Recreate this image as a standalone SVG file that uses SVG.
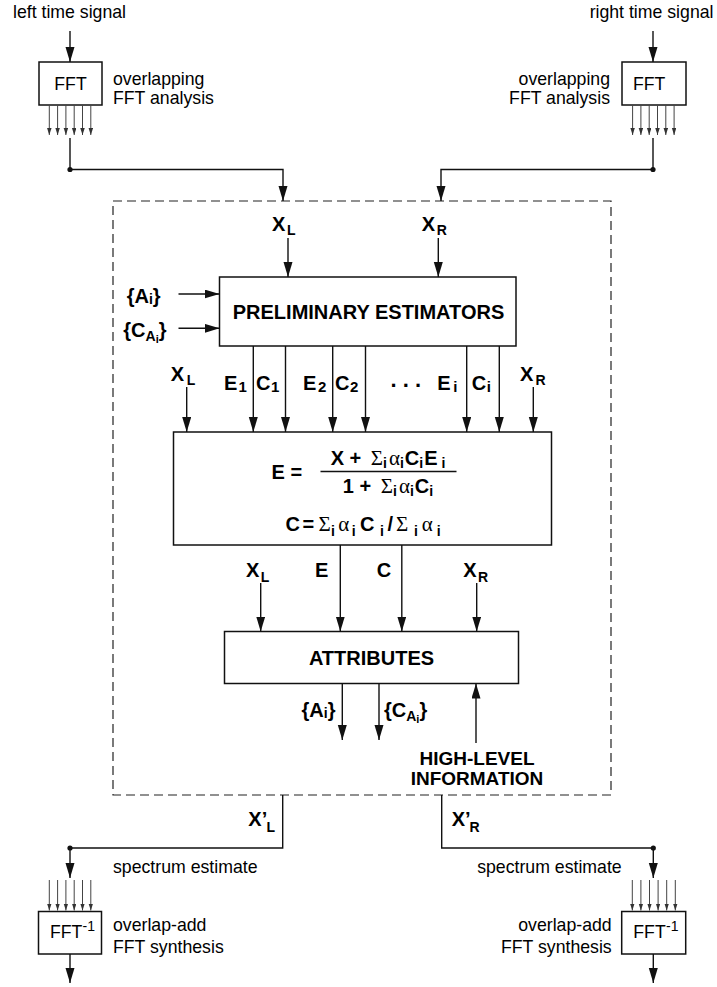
<svg xmlns="http://www.w3.org/2000/svg" width="717" height="987" viewBox="0 0 717 987">
<style>
.t{font-family:"Liberation Sans",Arial,sans-serif;font-size:17.7px;fill:#000}
.b{font-family:"Liberation Sans",Arial,sans-serif;font-size:20px;font-weight:bold;fill:#000}
.s{font-family:"Liberation Sans",Arial,sans-serif;font-size:14px;font-weight:bold;fill:#000}
.ss{font-family:"Liberation Sans",Arial,sans-serif;font-size:11px;font-weight:bold;fill:#000}
.sym{font-family:"Liberation Serif","Times New Roman",serif;font-size:21px;font-weight:normal;fill:#000}
.box{fill:#fff;stroke:#111;stroke-width:1.5}
.ln{fill:none;stroke:#111;stroke-width:1.4}
.fan{fill:none;stroke:#444;stroke-width:1}
.dash{fill:none;stroke:#222;stroke-width:1.2;stroke-dasharray:9 5}
</style>
<defs>
<marker id="ah" markerUnits="userSpaceOnUse" markerWidth="15" markerHeight="10" refX="15" refY="4.5" orient="auto">
<path d="M0,0 L15,4.5 L0,9 z" fill="#111"/>
</marker>
<marker id="sah" markerUnits="userSpaceOnUse" markerWidth="7" markerHeight="5" refX="7" refY="2.25" orient="auto">
<path d="M0,0 L7,2.25 L0,4.5 z" fill="#333"/>
</marker>
</defs>

<g id="container">
<rect class="dash" x="113" y="201" width="498" height="594"/>
</g>

<g id="fft-left">
<text class="t" x="13" y="18">left time signal</text>
<rect class="box" x="39" y="62" width="63" height="43"/>
<text class="t" x="54.3" y="90">FFT</text>
<text class="t" x="113" y="85">overlapping</text>
<text class="t" x="113" y="104">FFT analysis</text>
</g>

<g id="fft-right">
<text class="t" x="713.5" y="18" text-anchor="end">right time signal</text>
<rect class="box" x="622" y="62" width="64" height="43"/>
<text class="t" x="633" y="90">FFT</text>
<text class="t" x="610" y="85" text-anchor="end">overlapping</text>
<text class="t" x="610" y="104" text-anchor="end">FFT analysis</text>
</g>

<g id="prelim">
<rect class="box" x="219.5" y="277" width="296.5" height="69"/>
<text class="b" x="368.5" y="319" text-anchor="middle">PRELIMINARY ESTIMATORS</text>
</g>

<g id="combine">
<rect class="box" x="173.5" y="432" width="378" height="113"/>
<text class="b" x="271.5" y="479">E =</text>
<text class="b" x="388" y="465" text-anchor="middle">X + <tspan class="sym" dx="4">Σ</tspan><tspan class="s" dy="3">i</tspan><tspan class="sym" dy="-3" dx="2">α</tspan><tspan class="s" dy="3">i</tspan><tspan dy="-3" dx="1">C</tspan><tspan class="s" dy="3">i</tspan><tspan dy="-3" dx="1">E</tspan><tspan class="s" dy="3" dx="4">i</tspan></text>
<line x1="320.5" y1="471.5" x2="456.5" y2="471.5" stroke="#111" stroke-width="1.5"/>
<text class="b" x="388" y="493" text-anchor="middle">1 + <tspan class="sym" dx="4">Σ</tspan><tspan class="s" dy="3">i</tspan><tspan class="sym" dy="-3" dx="2">α</tspan><tspan class="s" dy="3">i</tspan><tspan dy="-3" dx="1">C</tspan><tspan class="s" dy="3">i</tspan></text>
<text class="b" y="531"><tspan x="285.5">C</tspan><tspan x="302.5">=</tspan><tspan class="sym" x="318.5">Σ</tspan><tspan class="s" x="331" y="536">i</tspan><tspan class="sym" x="338.3" y="531">α</tspan><tspan class="s" x="351.7" y="536">i</tspan><tspan x="360" y="531">C</tspan><tspan class="s" x="380" y="536">i</tspan><tspan x="387.5" y="531">/</tspan><tspan class="sym" x="396">Σ</tspan><tspan class="s" x="414" y="536">i</tspan><tspan class="sym" x="421.7" y="531">α</tspan><tspan class="s" x="436.7" y="536">i</tspan></text>
</g>

<g id="attributes">
<rect class="box" x="224.5" y="631.5" width="294" height="52"/>
<text class="b" x="371.5" y="665" text-anchor="middle">ATTRIBUTES</text>
</g>

<g id="high-level">
<text class="b" x="477" y="765" text-anchor="middle" style="font-size:19px">HIGH-LEVEL</text>
<text class="b" x="477" y="785" text-anchor="middle" style="font-size:19px">INFORMATION</text>
</g>

<g id="ifft-left">
<rect class="box" x="38.5" y="911.5" width="63" height="42.5"/>
<text class="t" x="50" y="938">FFT<tspan x="82.5" y="931" style="font-size:14px">-1</tspan></text>
<text class="t" x="113" y="873">spectrum estimate</text>
<text class="t" x="113" y="931">overlap-add</text>
<text class="t" x="113" y="953">FFT synthesis</text>
</g>

<g id="ifft-right">
<rect class="box" x="621.7" y="911.5" width="64" height="42.5"/>
<text class="t" x="633.3" y="938">FFT<tspan x="666" y="931" style="font-size:14px">-1</tspan></text>
<text class="t" x="621.7" y="873" text-anchor="end">spectrum estimate</text>
<text class="t" x="611.7" y="931" text-anchor="end">overlap-add</text>
<text class="t" x="611.7" y="953" text-anchor="end">FFT synthesis</text>
</g>

<g id="labels">
<text class="b" x="272" y="231">X<tspan class="s" x="287" y="235">L</tspan></text>
<text class="b" x="421.7" y="231">X<tspan class="s" x="436.7" y="235">R</tspan></text>
<text class="b" x="126.7" y="303">{A<tspan class="s" dy="1">i</tspan><tspan dy="-1">}</tspan></text>
<text class="b" x="123.3" y="337">{C<tspan class="s" dy="4">A</tspan><tspan class="ss" dy="2">i</tspan><tspan dy="-6">}</tspan></text>
<text class="b" x="170.7" y="381">X<tspan class="s" x="186.7" y="385">L</tspan></text>
<text class="b" x="520" y="381">X<tspan class="s" x="535.5" y="385">R</tspan></text>
<text class="b" y="390"><tspan x="224">E</tspan><tspan x="238.5" y="392" style="font-size:15px">1</tspan></text>
<text class="b" y="390"><tspan x="256">C</tspan><tspan x="271" y="392" style="font-size:15px">1</tspan></text>
<text class="b" y="390"><tspan x="303">E</tspan><tspan x="318" y="392" style="font-size:15px">2</tspan></text>
<text class="b" y="390"><tspan x="335">C</tspan><tspan x="350" y="392" style="font-size:15px">2</tspan></text>
<text class="b" x="390.5" y="387" style="font-size:22px">. . .</text>
<text class="b" y="390"><tspan x="437.3">E</tspan><tspan x="453.3" y="392" style="font-size:15px">i</tspan></text>
<text class="b" y="390"><tspan x="471.7">C</tspan><tspan x="486.7" y="392" style="font-size:15px">i</tspan></text>
<text class="b" x="246" y="577">X<tspan class="s" x="260.7" y="582">L</tspan></text>
<text class="b" x="315" y="577">E</text>
<text class="b" x="376.7" y="577">C</text>
<text class="b" x="463.3" y="577">X<tspan class="s" x="478" y="582">R</tspan></text>
<text class="b" x="301.5" y="717">{A<tspan class="s" dy="1">i</tspan><tspan dy="-1">}</tspan></text>
<text class="b" x="384" y="717">{C<tspan class="s" dy="4">A</tspan><tspan class="ss" dy="2">i</tspan><tspan dy="-6">}</tspan></text>
<text class="b" x="248.3" y="826">X’<tspan class="s" x="266.5" y="832">L</tspan></text>
<text class="b" x="451.7" y="826">X’<tspan class="s" x="469.5" y="832">R</tspan></text>
</g>

<g id="connectors">
<line class="ln" x1="70" y1="31" x2="70" y2="62" marker-end="url(#ah)"/>
<line class="ln" x1="653" y1="31" x2="653" y2="62" marker-end="url(#ah)"/>
<g class="fan" marker-end="url(#sah)">
<line x1="49.3" y1="105" x2="49.3" y2="135"/>
<line x1="57.6" y1="105" x2="57.6" y2="135"/>
<line x1="65.9" y1="105" x2="65.9" y2="135"/>
<line x1="74.2" y1="105" x2="74.2" y2="135"/>
<line x1="82.5" y1="105" x2="82.5" y2="135"/>
<line x1="90.8" y1="105" x2="90.8" y2="135"/>
<line x1="632.6" y1="105" x2="632.6" y2="135"/>
<line x1="640.9" y1="105" x2="640.9" y2="135"/>
<line x1="649.2" y1="105" x2="649.2" y2="135"/>
<line x1="657.5" y1="105" x2="657.5" y2="135"/>
<line x1="665.8" y1="105" x2="665.8" y2="135"/>
<line x1="674.1" y1="105" x2="674.1" y2="135"/>
<line x1="49.3" y1="880" x2="49.3" y2="910.5"/>
<line x1="57.6" y1="880" x2="57.6" y2="910.5"/>
<line x1="65.9" y1="880" x2="65.9" y2="910.5"/>
<line x1="74.2" y1="880" x2="74.2" y2="910.5"/>
<line x1="82.5" y1="880" x2="82.5" y2="910.5"/>
<line x1="90.8" y1="880" x2="90.8" y2="910.5"/>
<line x1="632.3" y1="880" x2="632.3" y2="910.5"/>
<line x1="640.9" y1="880" x2="640.9" y2="910.5"/>
<line x1="649.5" y1="880" x2="649.5" y2="910.5"/>
<line x1="658.1" y1="880" x2="658.1" y2="910.5"/>
<line x1="666.7" y1="880" x2="666.7" y2="910.5"/>
<line x1="675.3" y1="880" x2="675.3" y2="910.5"/>
</g>
<path class="ln" d="M70,138 V169.5 H283 V201" marker-end="url(#ah)"/>
<path class="ln" d="M653,138 V169.5 H441 V201" marker-end="url(#ah)"/>
<circle cx="70" cy="169.5" r="2.6" fill="#111"/>
<circle cx="653" cy="169.5" r="2.6" fill="#111"/>
<line class="ln" x1="288" y1="238" x2="288" y2="277" marker-end="url(#ah)"/>
<line class="ln" x1="438.3" y1="238" x2="438.3" y2="277" marker-end="url(#ah)"/>
<line class="ln" x1="178.5" y1="294" x2="219.5" y2="294" marker-end="url(#ah)"/>
<line class="ln" x1="178.5" y1="328.3" x2="219.5" y2="328.3" marker-end="url(#ah)"/>
<line class="ln" x1="186.7" y1="387" x2="186.7" y2="432" marker-end="url(#ah)"/>
<line class="ln" x1="253.3" y1="346" x2="253.3" y2="432" marker-end="url(#ah)"/>
<line class="ln" x1="285.5" y1="346" x2="285.5" y2="432" marker-end="url(#ah)"/>
<line class="ln" x1="332.7" y1="346" x2="332.7" y2="432" marker-end="url(#ah)"/>
<line class="ln" x1="365.5" y1="346" x2="365.5" y2="432" marker-end="url(#ah)"/>
<line class="ln" x1="466.7" y1="346" x2="466.7" y2="432" marker-end="url(#ah)"/>
<line class="ln" x1="499.3" y1="346" x2="499.3" y2="432" marker-end="url(#ah)"/>
<line class="ln" x1="533.3" y1="387" x2="533.3" y2="432" marker-end="url(#ah)"/>
<line class="ln" x1="260.7" y1="583" x2="260.7" y2="631.5" marker-end="url(#ah)"/>
<line class="ln" x1="340.3" y1="545" x2="340.3" y2="631.5" marker-end="url(#ah)"/>
<line class="ln" x1="401.8" y1="545" x2="401.8" y2="631.5" marker-end="url(#ah)"/>
<line class="ln" x1="476.7" y1="583" x2="476.7" y2="631.5" marker-end="url(#ah)"/>
<line class="ln" x1="342.3" y1="683.5" x2="342.3" y2="740" marker-end="url(#ah)"/>
<line class="ln" x1="379" y1="683.5" x2="379" y2="740" marker-end="url(#ah)"/>
<line class="ln" x1="476" y1="743" x2="476" y2="683.5" marker-end="url(#ah)"/>
<path class="ln" d="M282.7,795 V848 H70 V878" marker-end="url(#ah)"/>
<path class="ln" d="M441.7,795 V848 H653.3 V878" marker-end="url(#ah)"/>
<circle cx="70" cy="848" r="2.6" fill="#111"/>
<circle cx="653.3" cy="848" r="2.6" fill="#111"/>
<line class="ln" x1="70" y1="954" x2="70" y2="983" marker-end="url(#ah)"/>
<line class="ln" x1="653.3" y1="954" x2="653.3" y2="983" marker-end="url(#ah)"/>
</g>
</svg>
